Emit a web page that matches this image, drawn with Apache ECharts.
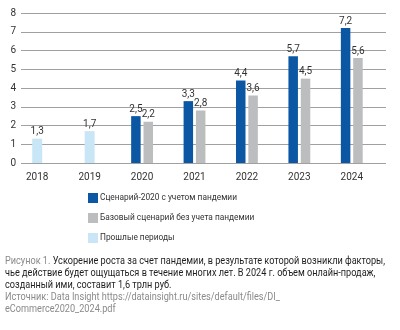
<!DOCTYPE html>
<html><head><meta charset="utf-8">
<script src="https://cdn.jsdelivr.net/npm/echarts@6/dist/echarts.min.js"></script>
<style>html,body{margin:0;padding:0;background:#fff}#c{width:400px;height:330px}</style>
</head><body><div id="c"></div>
<script>
var categories = ['2018','2019','2020','2021','2022','2023','2024'];
var scenario2020 = [null, null, 2.5, 3.3, 4.4, 5.7, 7.2];
var baseScenario = [null, null, 2.2, 2.8, 3.6, 4.5, 5.6];
var pastPeriods = [1.3, 1.7, null, null, null, null, null];
var seriesNames = ['Сценарий-2020 с учетом пандемии', 'Базовый сценарий без учета пандемии', 'Прошлые периоды'];
var yTicks = [0, 8, 1];
var captionLines = [
  ['Рисунок 1. ', 'Ускорение роста за счет пандемии, в результате которой возникли факторы,'],
  ['', 'чье действие будет ощущаться в течение многих лет. В 2024 г. объем онлайн-продаж,'],
  ['', 'созданный ими, составит 1,6 трлн руб.'],
  ['Источник: Data Insight https://datainsight.ru/sites/default/files/DI_', ''],
  ['eCommerce2020_2024.pdf', '']
];

var FONT = 'Roboto, "Liberation Sans", sans-serif';
var cv = document.createElement('canvas').getContext('2d');
function textW(t, size) { cv.font = size + 'px ' + FONT; return cv.measureText(t).width; }
var capSize = 10.5;
var capScale = 380 / textW(captionLines[0][0] + captionLines[0][1], capSize);
var legSize = 10 * 137 / textW(seriesNames[0], 10);

var fmt = function (p) { return String(p.value).replace('.', ','); };
var lbl = { show: true, position: 'top', distance: 2, fontSize: 10, color: '#333', fontFamily: FONT, formatter: fmt };

var capText = captionLines.map(function (l) {
  var s = '';
  if (l[0]) s += '{g|' + l[0] + '}';
  if (l[1]) s += '{b|' + l[1] + '}';
  return s;
}).join('\n');

var chart = echarts.init(document.getElementById('c'), null, { renderer: 'canvas' });
chart.setOption({
  animation: false,
  textStyle: { fontFamily: FONT },
  grid: [
    { left: 21, right: 14, top: 13, bottom: 167 },
    { left: 11, right: 22, top: 13, bottom: 167 }
  ],
  xAxis: [
    { gridIndex: 0, type: 'category', data: categories, show: false },
    { gridIndex: 1, type: 'category', data: categories,
      axisLine: { show: false }, axisTick: { show: false },
      axisLabel: { fontSize: 10, color: '#333', margin: 9, fontFamily: FONT } },
    { gridIndex: 1, type: 'category', data: categories, show: false }
  ],
  yAxis: [
    { gridIndex: 0, type: 'value', min: yTicks[0], max: yTicks[1], interval: yTicks[2],
      axisLine: { show: false }, axisTick: { show: false },
      axisLabel: { fontSize: 10, color: '#333', margin: 5, fontFamily: FONT },
      splitLine: { lineStyle: { color: '#a0a0a0', width: 1 } } },
    { gridIndex: 1, type: 'value', min: yTicks[0], max: yTicks[1], interval: yTicks[2], show: false, splitLine: { show: false } }
  ],
  legend: {
    orient: 'vertical', left: 88, top: 193, padding: 0, itemWidth: 10, itemHeight: 10, itemGap: 10,
    icon: 'rect', data: seriesNames,
    textStyle: { fontSize: legSize, color: '#333', fontFamily: FONT, padding: [0, 0, 0, -3] }
  },
  series: [
    { name: seriesNames[0], type: 'bar', xAxisIndex: 1, yAxisIndex: 1, data: scenario2020,
      barWidth: 9.5, barGap: '30%', itemStyle: { color: '#0b57a4' }, label: lbl },
    { name: seriesNames[1], type: 'bar', xAxisIndex: 1, yAxisIndex: 1, data: baseScenario,
      barWidth: 9.5, barGap: '30%', itemStyle: { color: '#bcbdbf' }, label: lbl },
    { name: seriesNames[2], type: 'bar', xAxisIndex: 2, yAxisIndex: 1, data: pastPeriods,
      barWidth: 10, itemStyle: { color: '#c9e6f7' }, label: lbl },
    { type: 'bar', xAxisIndex: 0, yAxisIndex: 0, data: [] }
  ],
  graphic: [
    { type: 'text', x: 5, y: 255, scaleX: capScale, style: {
      text: capText,
      rich: {
        g: { fontSize: capSize, fill: '#8a8a8a', fontFamily: FONT, lineHeight: 12 },
        b: { fontSize: capSize, fill: '#1e1e1e', fontFamily: FONT, lineHeight: 12 }
      }
    } }
  ]
});
</script></body></html>
